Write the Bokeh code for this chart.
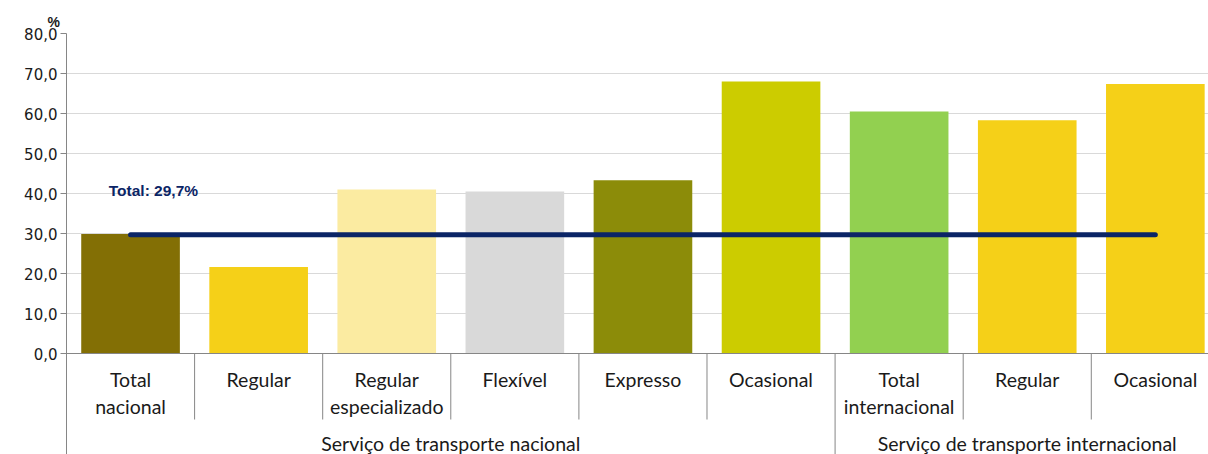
from bokeh.plotting import figure
from bokeh.models import Range1d, FixedTicker, Span, Label, ColumnDataSource, Title
from bokeh.core.properties import value
from bokeh.embed import file_html
from bokeh.resources import INLINE

# ---- data ----
categories = ["Total\nnacional", "Regular", "Regular\nespecializado", "Flexível",
              "Expresso", "Ocasional", "Total\ninternacional", "Regular", "Ocasional"]
groups = ["Serviço de transporte nacional"] * 6 + ["Serviço de transporte internacional"] * 3
values = [29.9, 21.6, 41.0, 40.5, 43.3, 68.0, 60.5, 58.3, 67.4]
colors = ["#836F05", "#F5D018", "#FBEBA1", "#D9D9D9", "#8C8C09",
          "#CCCC00", "#92D050", "#F5D018", "#F5D018"]
total_value = 29.7
total_label = "Total: 29,7%"
y_ticks = [0, 10, 20, 30, 40, 50, 60, 70, 80]
y_tick_labels = ["0,0", "10,0", "20,0", "30,0", "40,0", "50,0", "60,0", "70,0", "80,0"]
unit_label = "%"

FONT = "Lato"
GRAY = "#868686"

n = len(categories)
centers = [i + 0.5 for i in range(n)]

p = figure(width=1208, height=454, output_backend="svg", toolbar_location=None,
           x_range=Range1d(0, 8.915), y_range=Range1d(-25.25, 80),
           min_border_left=66, min_border_right=0, min_border_top=33, min_border_bottom=0)
p.outline_line_color = None
p.background_fill_color = "white"
p.border_fill_color = "white"

# unit title above the axis
p.add_layout(Title(text=unit_label, align="left", offset=-19, standoff=7,
                   text_font="Liberation Sans", text_font_style="bold",
                   text_font_size="14px", text_color="#1a1a1a"), "above")

# axes
p.xaxis.visible = False
p.xgrid.visible = False
p.yaxis.ticker = FixedTicker(ticks=y_ticks)
p.yaxis.major_label_overrides = {t: l for t, l in zip(y_ticks, y_tick_labels)}
p.yaxis.axis_line_color = GRAY
p.yaxis.major_tick_line_color = GRAY
p.yaxis.major_tick_out = 6
p.yaxis.major_tick_in = 0
p.yaxis.minor_tick_line_color = None
p.yaxis.major_label_text_font = "DejaVu Sans"
p.yaxis.major_label_text_font_size = "15px"
p.yaxis.major_label_text_color = "#1a1a1a"
p.yaxis.major_label_standoff = 3
p.ygrid.ticker = FixedTicker(ticks=y_ticks)
p.ygrid.grid_line_color = "#D9D9D9"
p.ygrid.grid_line_width = 1

# bars
src = ColumnDataSource(dict(x=centers, top=values, color=colors))
p.vbar(x="x", top="top", bottom=0, width=0.77, fill_color="color", line_color=None, source=src)

# category axis line
p.add_layout(Span(location=0, dimension="width", line_color=GRAY, line_width=1))

# separators
inner = [i for i in range(1, n) if groups[i] == groups[i - 1]]
outer = [i for i in range(1, n) if groups[i] != groups[i - 1]]
p.segment(x0=inner, y0=[0] * len(inner), x1=inner, y1=[-16.5] * len(inner),
          line_color=GRAY, line_width=1)
p.segment(x0=outer, y0=[0] * len(outer), x1=outer, y1=[-25.25] * len(outer),
          line_color=GRAY, line_width=1)

# category labels
p.text(x=centers, y=[-3.6] * n, text=categories, text_align="center", text_baseline="top",
       text_font=value(FONT), text_font_size="19.5px", text_color="#1a1a1a", text_line_height=1.2)

# group labels
gnames = []
gx = []
for g in groups:
    if g not in gnames:
        gnames.append(g)
for g in gnames:
    idx = [c for c, gg in zip(centers, groups) if gg == g]
    gx.append(sum(idx) / len(idx))
p.text(x=gx, y=[-22.6] * len(gx), text=gnames, text_align="center", text_baseline="middle",
       text_font=value(FONT), text_font_size="19.5px", text_color="#1a1a1a")

# total line
p.segment(x0=[centers[0]], y0=[total_value], x1=[centers[-1]], y1=[total_value],
          line_color="#0B2566", line_width=5, line_cap="round")
p.add_layout(Label(x=0.33, y=40.8, text=total_label, text_align="left", text_baseline="middle",
                   text_font="Liberation Sans", text_font_style="bold", text_font_size="15.5px",
                   text_color="#0B2566"))

open("out.html", "w").write(file_html(p, INLINE))
